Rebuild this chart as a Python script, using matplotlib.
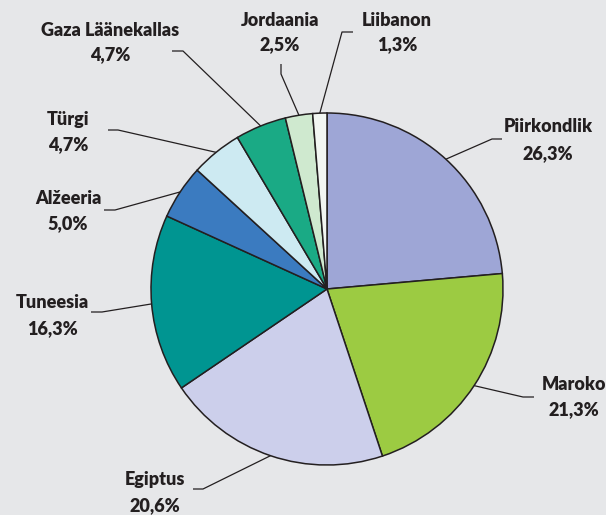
import numpy as np
import matplotlib
matplotlib.use("Agg")
import matplotlib.pyplot as plt

# ---- data ----
categories = ["Piirkondlik", "Maroko", "Egiptus", "Tuneesia", "Alžeeria",
              "Türgi", "Gaza Läänekallas", "Jordaania", "Liibanon"]
# slice sizes as drawn in the reference
values = [23.6, 21.3, 20.6, 16.3, 5.0, 4.7, 4.7, 2.5, 1.3]
# percentage labels as printed in the reference
pct_labels = ["26,3%", "21,3%", "20,6%", "16,3%", "5,0%", "4,7%", "4,7%", "2,5%", "1,3%"]
colors = ["#9ea6d6", "#9ccb42", "#cccfeb", "#009591", "#3b7bc0",
          "#cdeaf2", "#1aaa85", "#cfe9cf", "#f2f6f2"]

W, H = 606, 515
BG = "#e6e7e9"
INK = "#231f20"

fig = plt.figure(figsize=(W / 100, H / 100), dpi=100, facecolor=BG)
ax = fig.add_axes([0, 0, 1, 1])
ax.set_facecolor(BG)

cx, cy, R = 327, H - 289, 176
wedges, _ = ax.pie(values, colors=colors, startangle=90, counterclock=False,
                   center=(cx, cy), radius=R, frame=True,
                   wedgeprops=dict(edgecolor=INK, linewidth=1.1))
ax.set_xlim(0, W)
ax.set_ylim(0, H)
ax.set_aspect("equal")
ax.axis("off")

# layout: (elbow, end of leader, text center x, name y, pct y) in pixel coords (y down)
layout = {
    "Piirkondlik": ((492, 139), (502, 139), 548, 127, 154),
    "Maroko": ((523, 397), (534, 397), 574, 385, 410),
    "Egiptus": ((203, 489), (193, 489), 155, 480, 506),
    "Tuneesia": ((102, 312), (91, 312), 52, 303, 329),
    "Alžeeria": ((115, 210), (104, 210), 68, 199, 224),
    "Türgi": ((118, 130), (108, 130), 68, 119, 145),
    "Gaza Läänekallas": ((183, 51), (172, 51), 110, 30, 55),
    "Jordaania": ((281, 74), (281, 64), 280, 20, 45),
    "Liibanon": ((342, 32), (353, 32), 397, 20, 45),
}

font = dict(family=["Lato", "DejaVu Sans"], fontweight="heavy", fontsize=13, color=INK)

for w, cat, pl in zip(wedges, categories, pct_labels):
    ang = np.deg2rad((w.theta1 + w.theta2) / 2)
    ax_ = cx + R * np.cos(ang)
    ay_ = cy + R * np.sin(ang)
    elbow, end, tx, ny, py = layout[cat]
    xs = [ax_, elbow[0], end[0]]
    ys = [ay_, H - elbow[1], H - end[1]]
    ax.plot(xs, ys, color=INK, lw=0.9, solid_capstyle="butt", zorder=5)
    ax.text(tx, H - ny, cat, ha="center", va="center", **font)
    ax.text(tx, H - py, pl, ha="center", va="center", **font)

fig.savefig("out.png", dpi=100, facecolor=BG)
